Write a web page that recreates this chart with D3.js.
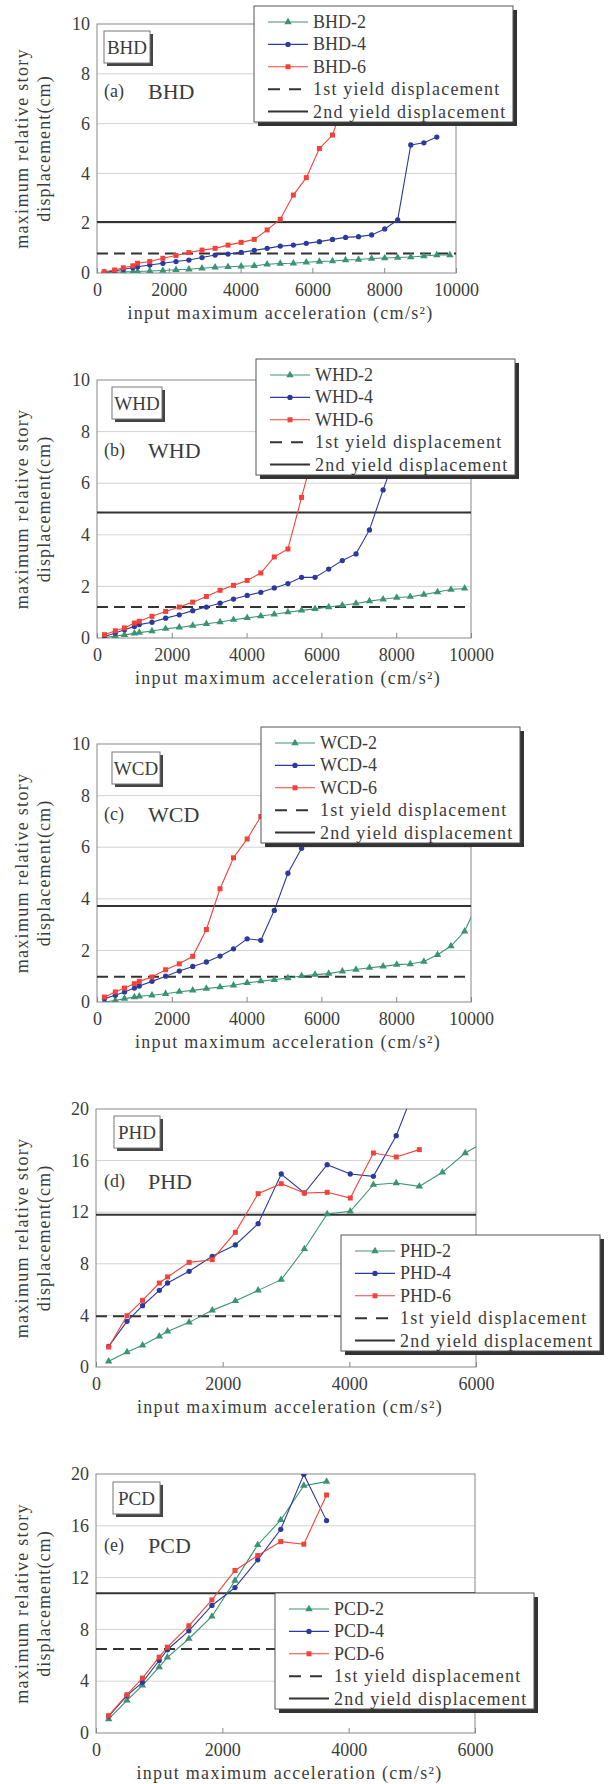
<!DOCTYPE html>
<html>
<head>
<meta charset="utf-8">
<script src="https://cdn.jsdelivr.net/npm/d3@7"></script>
<style>
  body { margin: 0; background: #fff; }
  text { font-family: "Liberation Serif", "Times New Roman", serif; fill: #3c3c3c; }
</style>
</head>
<body>
<div id="chart"></div>
<script>
// input maximum acceleration (cm/s2) of each excitation step
const accel = [200, 490, 735, 1000, 1130, 1470, 1835, 2200, 2560, 2925, 3290, 3650, 4015, 4380, 4740,
  5105, 5470, 5830, 6195, 6560, 6925, 7285, 7650, 8015, 8375, 8740, 9105, 9465, 9830, 10195];

// maximum relative story displacement (cm)
const bhd2 = [0.01, 0.03, 0.05, 0.05, 0.06, 0.08, 0.10, 0.13, 0.15, 0.19, 0.23, 0.25, 0.27, 0.29, 0.35,
  0.38, 0.39, 0.43, 0.46, 0.48, 0.52, 0.54, 0.58, 0.60, 0.62, 0.64, 0.68, 0.72, 0.72];
const bhd4 = [0.03, 0.08, 0.15, 0.21, 0.25, 0.32, 0.39, 0.46, 0.52, 0.62, 0.72, 0.76, 0.83, 0.91, 0.99,
  1.08, 1.12, 1.19, 1.26, 1.35, 1.43, 1.46, 1.53, 1.77, 2.13, 5.14, 5.23, 5.46];
const bhd6 = [0.05, 0.12, 0.21, 0.29, 0.39, 0.46, 0.59, 0.70, 0.82, 0.92, 0.99, 1.12, 1.23, 1.35, 1.73,
  2.16, 3.13, 3.83, 5.00, 5.54, 7.10];

const whd2 = [0.02, 0.08, 0.12, 0.18, 0.21, 0.27, 0.36, 0.41, 0.48, 0.55, 0.62, 0.71, 0.78, 0.85, 0.92,
  1.00, 1.07, 1.13, 1.20, 1.27, 1.34, 1.43, 1.50, 1.57, 1.60, 1.68, 1.78, 1.88, 1.92];
const whd4 = [0.06, 0.19, 0.32, 0.45, 0.52, 0.61, 0.77, 0.90, 1.06, 1.20, 1.35, 1.51, 1.65, 1.77, 1.94,
  2.11, 2.35, 2.35, 2.67, 3.00, 3.26, 4.19, 5.74, 7.20];
const whd6 = [0.13, 0.28, 0.39, 0.58, 0.65, 0.84, 1.03, 1.20, 1.39, 1.61, 1.85, 2.04, 2.23, 2.52, 3.14,
  3.45, 5.45, 7.40];

const wcd2 = [0.00, 0.06, 0.13, 0.19, 0.22, 0.26, 0.32, 0.40, 0.45, 0.52, 0.58, 0.65, 0.74, 0.81, 0.86,
  0.93, 1.01, 1.06, 1.10, 1.19, 1.26, 1.33, 1.38, 1.45, 1.47, 1.57, 1.83, 2.17, 2.74, 3.90];
const wcd4 = [0.13, 0.26, 0.39, 0.54, 0.62, 0.80, 1.00, 1.20, 1.38, 1.55, 1.78, 2.06, 2.45, 2.39, 3.55,
  4.99, 5.96, 6.90];
const wcd6 = [0.19, 0.39, 0.54, 0.71, 0.80, 0.97, 1.25, 1.48, 1.77, 2.81, 4.39, 5.59, 6.32, 7.19, 8.20];

const phd2 = [0.44, 1.16, 1.68, 2.38, 2.76, 3.46, 4.39, 5.12, 5.94, 6.77, 9.15, 11.86, 12.07, 14.13, 14.26,
  14.00, 15.09, 16.59, 17.60];
const phd4 = [1.60, 3.54, 4.75, 5.94, 6.51, 7.42, 8.58, 9.46, 11.11, 14.96, 13.49, 15.68, 14.96, 14.78,
  17.93, 22.50];
const phd6 = [1.55, 3.98, 5.17, 6.51, 6.98, 8.11, 8.32, 10.44, 13.44, 14.21, 13.49, 13.54, 13.10, 16.59,
  16.28, 16.85];

const pcd2 = [1.08, 2.52, 3.68, 5.09, 5.84, 7.28, 9.00, 11.77, 14.52, 16.45, 19.10, 19.41];
const pcd4 = [1.29, 2.88, 3.91, 5.60, 6.43, 7.89, 9.85, 11.23, 13.37, 15.73, 19.97, 16.40];
const pcd6 = [1.34, 2.96, 4.24, 5.86, 6.63, 8.28, 10.28, 12.55, 13.70, 14.78, 14.58, 18.38];

const yield1st = [0.78, 1.20, 0.98, 3.93, 6.48];
const yield2nd = [2.05, 4.86, 3.72, 11.8, 10.8];

const panelIds = ["BHD", "WHD", "WCD", "PHD", "PCD"];
const panelTags = ["(a)", "(b)", "(c)", "(d)", "(e)"];
const seriesSuffix = ["-2", "-4", "-6"];
const yieldNames = ["1st yield displacement", "2nd yield displacement"];

const xTicksWide = [0, 2000, 4000, 6000, 8000, 10000];
const xTicksNarrow = [0, 2000, 4000, 6000];
const yTicksSmall = [0, 2, 4, 6, 8, 10];
const yTicksLarge = [0, 4, 8, 12, 16, 20];

const xLabel = "input maximum acceleration (cm/s²)";
const yLabel1 = "maximum relative story";
const yLabel2 = "displacement(cm)";

// per-panel settings built from the arrays above
const panels = [
  { series: [bhd2, bhd4, bhd6], xMax: 10000, yMax: 10, xTicks: xTicksWide, yTicks: yTicksSmall },
  { series: [whd2, whd4, whd6], xMax: 10000, yMax: 10, xTicks: xTicksWide, yTicks: yTicksSmall },
  { series: [wcd2, wcd4, wcd6], xMax: 10000, yMax: 10, xTicks: xTicksWide, yTicks: yTicksSmall },
  { series: [phd2, phd4, phd6], xMax: 6000, yMax: 20, xTicks: xTicksNarrow, yTicks: yTicksLarge },
  { series: [pcd2, pcd4, pcd6], xMax: 6000, yMax: 20, xTicks: xTicksNarrow, yTicks: yTicksLarge }
];

// page positions of each panel
const layout = [
  { x0: 97, x1: 456, top: 24, bottom: 273, legX: 254, legY: 6, boxX: 104, boxY: 31, boxW: 46, tagY: 91 },
  { x0: 97, x1: 471, top: 380, bottom: 638, legX: 256, legY: 359, boxX: 112, boxY: 387, boxW: 50, tagY: 450 },
  { x0: 97, x1: 471, top: 744, bottom: 1002, legX: 261, legY: 727, boxX: 112, boxY: 752, boxW: 48, tagY: 814 },
  { x0: 96, x1: 476, top: 1109, bottom: 1367, legX: 341, legY: 1235, boxX: 114, boxY: 1116, boxW: 46, tagY: 1181 },
  { x0: 96, x1: 475, top: 1474, bottom: 1733, legX: 275, legY: 1593, boxX: 113, boxY: 1482, boxW: 47, tagY: 1545 }
];

const colors = ["#3a9473", "#2b3a9c", "#f2433a"];
const symbols = [d3.symbolTriangle, d3.symbolCircle, d3.symbolSquare];
const symbolSize = [24, 22, 25];

const svg = d3.select("#chart").append("svg")
  .attr("width", 608)
  .attr("height", 1784);

panels.forEach((p, i) => {
  const L = layout[i];
  const id = panelIds[i];

  const x = d3.scaleLinear().domain([0, p.xMax]).range([L.x0, L.x1]);
  const y = d3.scaleLinear().domain([0, p.yMax]).range([L.bottom, L.top]);

  const g = svg.append("g");

  // gridlines
  g.selectAll(".grid")
    .data(p.yTicks.filter(t => t > 0 && t < p.yMax))
    .join("line")
    .attr("x1", L.x0).attr("x2", L.x1)
    .attr("y1", d => y(d)).attr("y2", d => y(d))
    .attr("stroke", "#d2d2d2")
    .attr("stroke-width", 1);

  // axes
  const xAxis = g.append("g")
    .attr("transform", `translate(0,${L.bottom})`)
    .call(d3.axisBottom(x).tickValues(p.xTicks).tickFormat(d3.format("d"))
      .tickSizeInner(-5).tickSizeOuter(0).tickPadding(10));
  xAxis.select(".domain").remove();
  xAxis.selectAll(".tick line").attr("stroke", "#888");
  xAxis.selectAll("text").attr("font-size", 18).attr("fill", "#444")
    .style("font-family", '"Liberation Serif", serif');

  const yAxis = g.append("g")
    .attr("transform", `translate(${L.x0},0)`)
    .call(d3.axisLeft(y).tickValues(p.yTicks).tickFormat(d3.format("d")).tickSize(0).tickPadding(7));
  yAxis.select(".domain").remove();
  yAxis.selectAll("text").attr("font-size", 18).attr("fill", "#444")
    .style("font-family", '"Liberation Serif", serif');

  // frame
  g.append("rect")
    .attr("x", L.x0).attr("y", L.top)
    .attr("width", L.x1 - L.x0).attr("height", L.bottom - L.top)
    .attr("fill", "none")
    .attr("stroke", "#888")
    .attr("stroke-width", 1);

  // axis titles
  const cy = (L.top + L.bottom) / 2;
  g.append("text")
    .attr("transform", `translate(28,${cy}) rotate(-90)`)
    .attr("text-anchor", "middle")
    .attr("font-size", 18)
    .attr("letter-spacing", 1.3)
    .text(yLabel1);
  g.append("text")
    .attr("transform", `translate(50,${cy}) rotate(-90)`)
    .attr("text-anchor", "middle")
    .attr("font-size", 18)
    .attr("letter-spacing", 1.1)
    .text(yLabel2);
  g.append("text")
    .attr("x", (L.x0 + L.x1) / 2 + 4)
    .attr("y", L.bottom + 46)
    .attr("text-anchor", "middle")
    .attr("font-size", 18)
    .attr("letter-spacing", 1.3)
    .text(xLabel);

  // clip for data
  const clipId = "clip" + i;
  svg.append("clipPath").attr("id", clipId)
    .append("rect")
    .attr("x", L.x0).attr("y", L.top)
    .attr("width", L.x1 - L.x0).attr("height", L.bottom - L.top);

  const plot = g.append("g").attr("clip-path", `url(#${clipId})`);

  // yield displacement lines
  plot.append("line")
    .attr("x1", L.x0).attr("x2", L.x1)
    .attr("y1", y(yield1st[i])).attr("y2", y(yield1st[i]))
    .attr("stroke", "#333").attr("stroke-width", 2)
    .attr("stroke-dasharray", "11,6");
  plot.append("line")
    .attr("x1", L.x0).attr("x2", L.x1)
    .attr("y1", y(yield2nd[i])).attr("y2", y(yield2nd[i]))
    .attr("stroke", "#333").attr("stroke-width", 2);

  // series
  const line = d3.line().x((d, k) => x(accel[k])).y(d => y(d));
  p.series.forEach((vals, s) => {
    plot.append("path")
      .datum(vals)
      .attr("d", line)
      .attr("fill", "none")
      .attr("stroke", colors[s])
      .attr("stroke-width", 1.1);
    plot.selectAll(".m" + s)
      .data(vals)
      .join("path")
      .attr("transform", (d, k) => `translate(${x(accel[k])},${y(d)})`)
      .attr("d", d3.symbol(symbols[s], symbolSize[s]))
      .attr("fill", colors[s]);
  });

  // specimen box
  g.append("rect")
    .attr("x", L.boxX + 3).attr("y", L.boxY + 3)
    .attr("width", L.boxW).attr("height", 32)
    .attr("fill", "#444");
  g.append("rect")
    .attr("x", L.boxX).attr("y", L.boxY)
    .attr("width", L.boxW).attr("height", 32)
    .attr("fill", "#fff")
    .attr("stroke", "#777");
  g.append("text")
    .attr("x", L.boxX + L.boxW / 2)
    .attr("y", L.boxY + 23)
    .attr("text-anchor", "middle")
    .attr("font-size", 19)
    .attr("fill", "#444")
    .text(id);

  // panel tag
  g.append("text")
    .attr("x", 104).attr("y", L.tagY + 6)
    .attr("font-size", 18)
    .attr("fill", "#999")
    .text(panelTags[i]);
  g.append("text")
    .attr("x", 148).attr("y", L.tagY + 8)
    .attr("font-size", 22)
    .attr("fill", "#444")
    .text(id);

  // legend
  const leg = g.append("g").attr("transform", `translate(${L.legX},${L.legY})`);
  leg.append("rect")
    .attr("x", 4).attr("y", 4)
    .attr("width", 259).attr("height", 116)
    .attr("fill", "#333");
  leg.append("rect")
    .attr("width", 259).attr("height", 116)
    .attr("fill", "#fff")
    .attr("stroke", "#555");

  const names = seriesSuffix.map(sfx => id + sfx).concat(yieldNames);
  const rows = leg.selectAll(".row")
    .data(names)
    .join("g")
    .attr("transform", (d, k) => `translate(0,${16 + k * 22.4})`);

  rows.append("line")
    .attr("x1", 14).attr("x2", 54)
    .attr("y1", 0).attr("y2", 0)
    .attr("stroke", (d, k) => k < 3 ? colors[k] : "#333")
    .attr("stroke-width", (d, k) => k < 3 ? 1.1 : 2)
    .attr("stroke-dasharray", (d, k) => k === 3 ? "12,9" : null);

  rows.filter((d, k) => k < 3)
    .append("path")
    .attr("transform", "translate(34,0)")
    .attr("d", (d, k) => d3.symbol(symbols[k], symbolSize[k])())
    .attr("fill", (d, k) => colors[k]);

  rows.append("text")
    .attr("x", 59)
    .attr("y", 6)
    .attr("font-size", 18)
    .attr("letter-spacing", (d, k) => k < 3 ? 0 : 1.2)
    .text(d => d);
});
</script>
</body>
</html>
